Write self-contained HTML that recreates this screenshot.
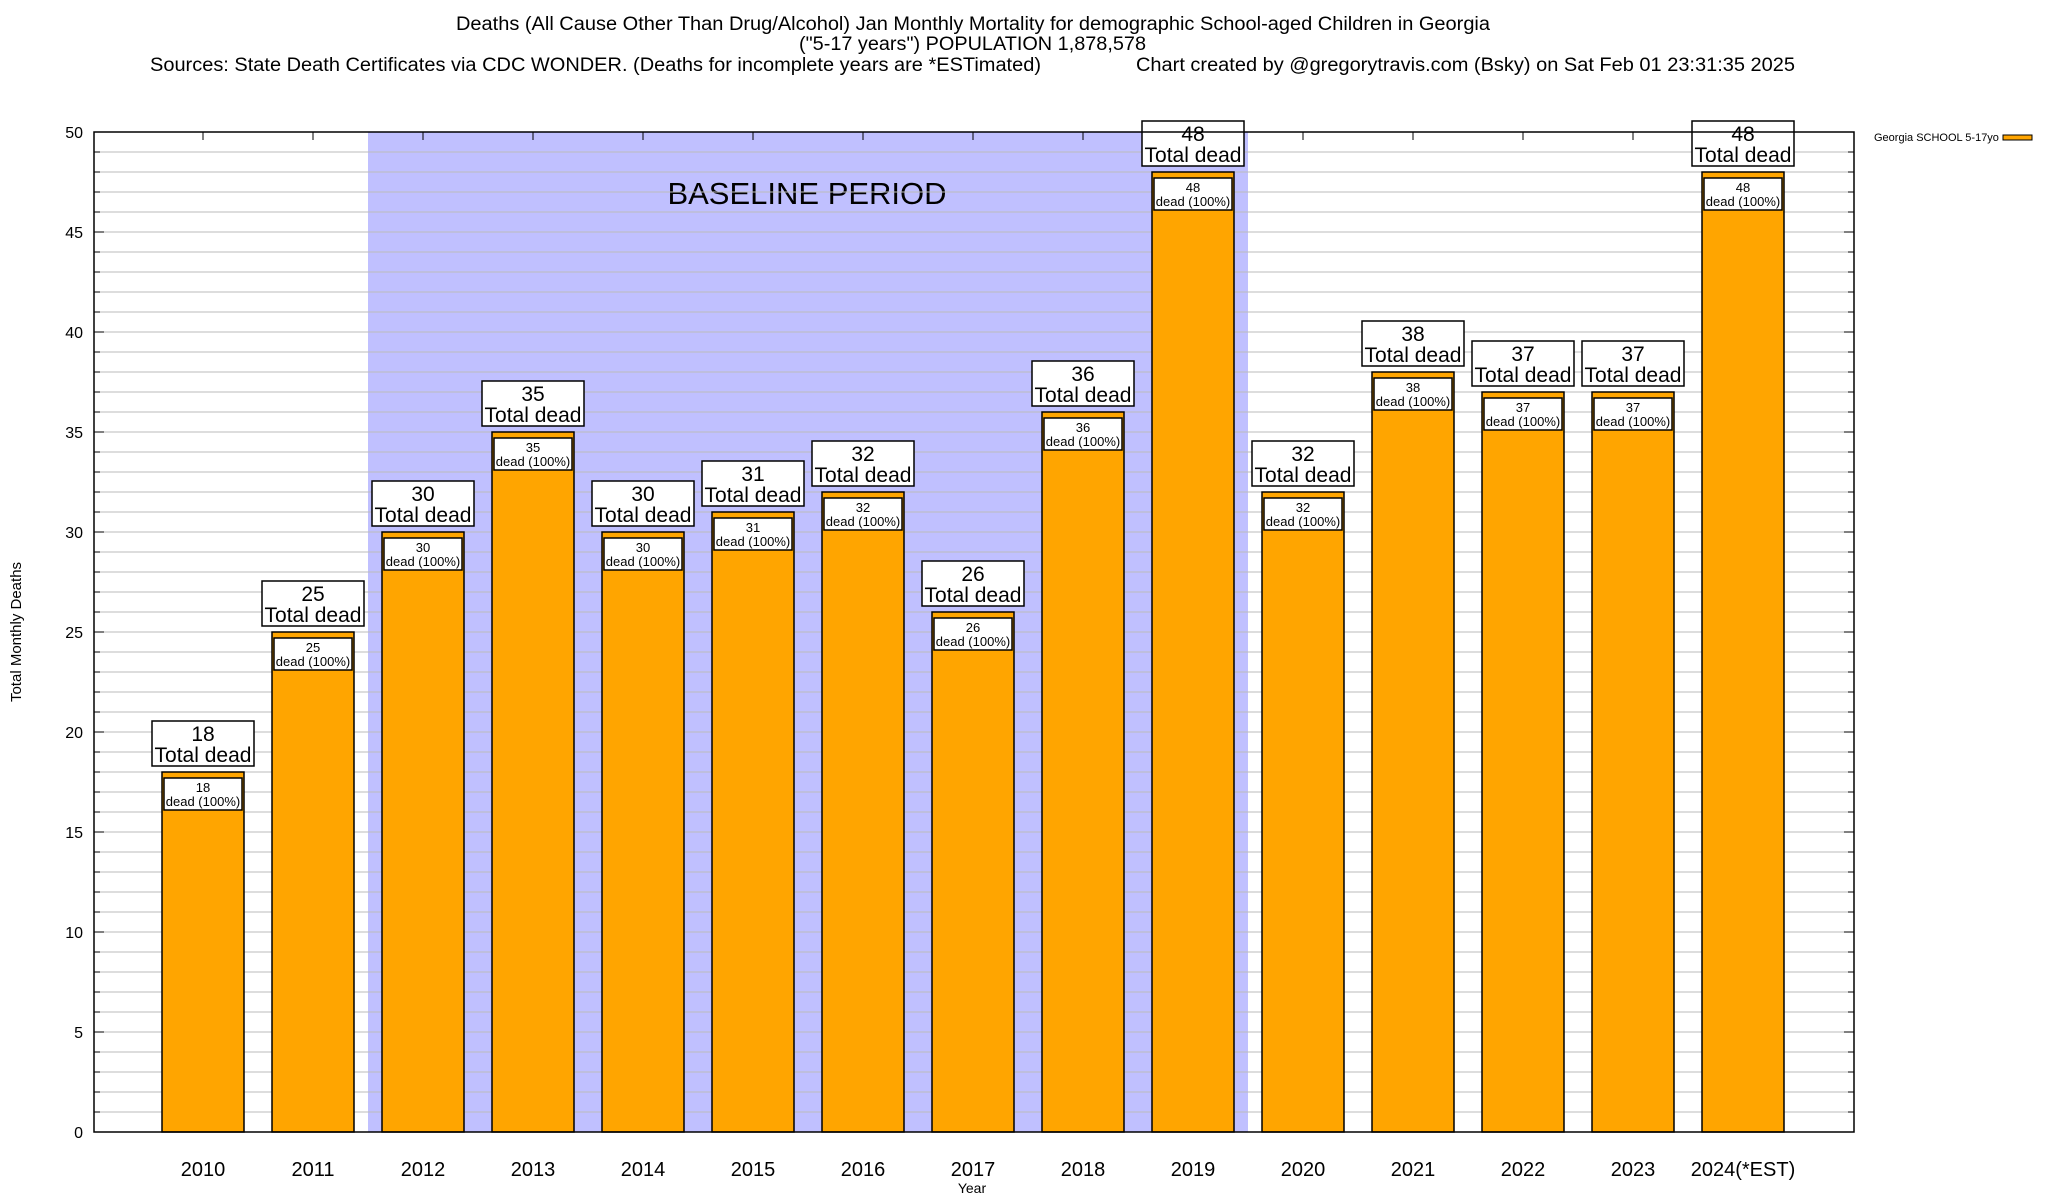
<!DOCTYPE html>
<html><head><meta charset="utf-8"><style>
body{margin:0;background:#fff;}
svg{display:block;font-family:"Liberation Sans",sans-serif;}
</style></head><body>
<svg id="chart" width="2048" height="1200" xmlns="http://www.w3.org/2000/svg">
<rect x="0" y="0" width="2048" height="1200" fill="#fff"/>
<g font-size="19">
<text x="456" y="30" textLength="1034" lengthAdjust="spacingAndGlyphs">Deaths (All Cause Other Than Drug/Alcohol) Jan Monthly Mortality for demographic School-aged Children in Georgia</text>
<text x="799" y="50" textLength="347" lengthAdjust="spacingAndGlyphs">("5-17 years") POPULATION 1,878,578</text>
<text x="150" y="71" textLength="891" lengthAdjust="spacingAndGlyphs">Sources: State Death Certificates via CDC WONDER. (Deaths for incomplete years are *ESTimated)</text>
<text x="1136" y="71" textLength="659" lengthAdjust="spacingAndGlyphs">Chart created by @gregorytravis.com (Bsky) on Sat Feb 01 23:31:35 2025</text>
</g>
<g id="plot"></g>
<text x="1874" y="141" font-size="11">Georgia SCHOOL 5-17yo</text>
<rect x="2003" y="135" width="29" height="5" fill="#ffa500" stroke="#000" stroke-width="1"/>
</svg>
<script>
const categories = ["2010","2011","2012","2013","2014","2015","2016","2017","2018","2019","2020","2021","2022","2023","2024(*EST)"];
const values = [18,25,30,35,30,31,32,26,36,48,32,38,37,37,48];
const yTicks = [0,5,10,15,20,25,30,35,40,45,50];
const baselineRange = [2012, 2019];

const L=94,R=1854,T=132,B=1132,yMax=50;
const slot=(R-L)/(categories.length+1);
const xs=i=>L-1+slot*(i+1);
const ys=v=>B-(v/yMax)*(B-T);
const NS="http://www.w3.org/2000/svg";
const g=document.getElementById('plot');
function mk(tag,attrs,parent){const e=document.createElementNS(NS,tag);for(const k in attrs)e.setAttribute(k,attrs[k]);(parent||g).appendChild(e);return e;}

const bi0=categories.indexOf(String(baselineRange[0])), bi1=categories.indexOf(String(baselineRange[1]));
const shade=mk('rect',{x:xs(bi0)-slot/2,y:T,width:(bi1-bi0+1)*slot,height:B-T,fill:'#c0c0ff'});


const bt=mk('text',{x:807,y:204,'font-size':31,'text-anchor':'middle'});
bt.textContent='BASELINE PERIOD';



for(let v=1;v<yMax;v++){
  const ln=mk('line',{x1:L,x2:R,y1:ys(v),y2:ys(v),stroke:'#bbbbbb','stroke-width':1});
  
  
  mk('line',{x1:L,x2:L+(v%5?6:10),y1:ys(v),y2:ys(v),stroke:'#000'});
  mk('line',{x1:R,x2:R-(v%5?6:10),y1:ys(v),y2:ys(v),stroke:'#000'});
}
yTicks.forEach(v=>{
  const t=mk('text',{x:83,y:ys(v)+6,'font-size':16,'text-anchor':'end'});
  t.textContent=v;
  
  
});

categories.forEach((c,i)=>{
  const v=values[i],cx=xs(i),bw=82;
  const bar=mk('rect',{x:cx-bw/2,y:ys(v),width:bw,height:B-ys(v),fill:'#ffa500',stroke:'#000','stroke-width':1.5});
  
  
  mk('line',{x1:cx,x2:cx,y1:T,y2:T+8,stroke:'#000'});
  const ib=mk('rect',{x:cx-bw/2+2,y:ys(v)+6,width:bw-4,height:32,fill:'#fff',stroke:'#000','stroke-width':1.5});
  
  
  const t1=mk('text',{x:cx,y:ys(v)+20,'font-size':13,'text-anchor':'middle'});t1.textContent=v;
  
  
  const t2=mk('text',{x:cx,y:ys(v)+34,'font-size':13,'text-anchor':'middle'});t2.textContent='dead (100%)';
  
  
  const ob=mk('rect',{x:cx-51,y:ys(v)-51,width:102,height:45,fill:'#fff',stroke:'#000','stroke-width':1.5});
  
  
  const o1=mk('text',{x:cx,y:ys(v)-31,'font-size':21,'text-anchor':'middle'});o1.textContent=v;
  
  
  const o2=mk('text',{x:cx,y:ys(v)-10,'font-size':21,'text-anchor':'middle'});o2.textContent='Total dead';
  
  
  const xl=mk('text',{x:cx,y:1176,'font-size':20,'text-anchor':'middle'});xl.textContent=c;
  
  
});

const fr=mk('rect',{x:L,y:T,width:R-L,height:B-T,fill:'none',stroke:'#000','stroke-width':1.5});


const xt=mk('text',{x:972,y:1193,'font-size':14,'text-anchor':'middle'});xt.textContent='Year';


const yt=mk('text',{x:0,y:0,'font-size':15,'text-anchor':'middle',transform:'translate(21,632) rotate(-90)'});yt.textContent='Total Monthly Deaths';


</script>
</body></html>
